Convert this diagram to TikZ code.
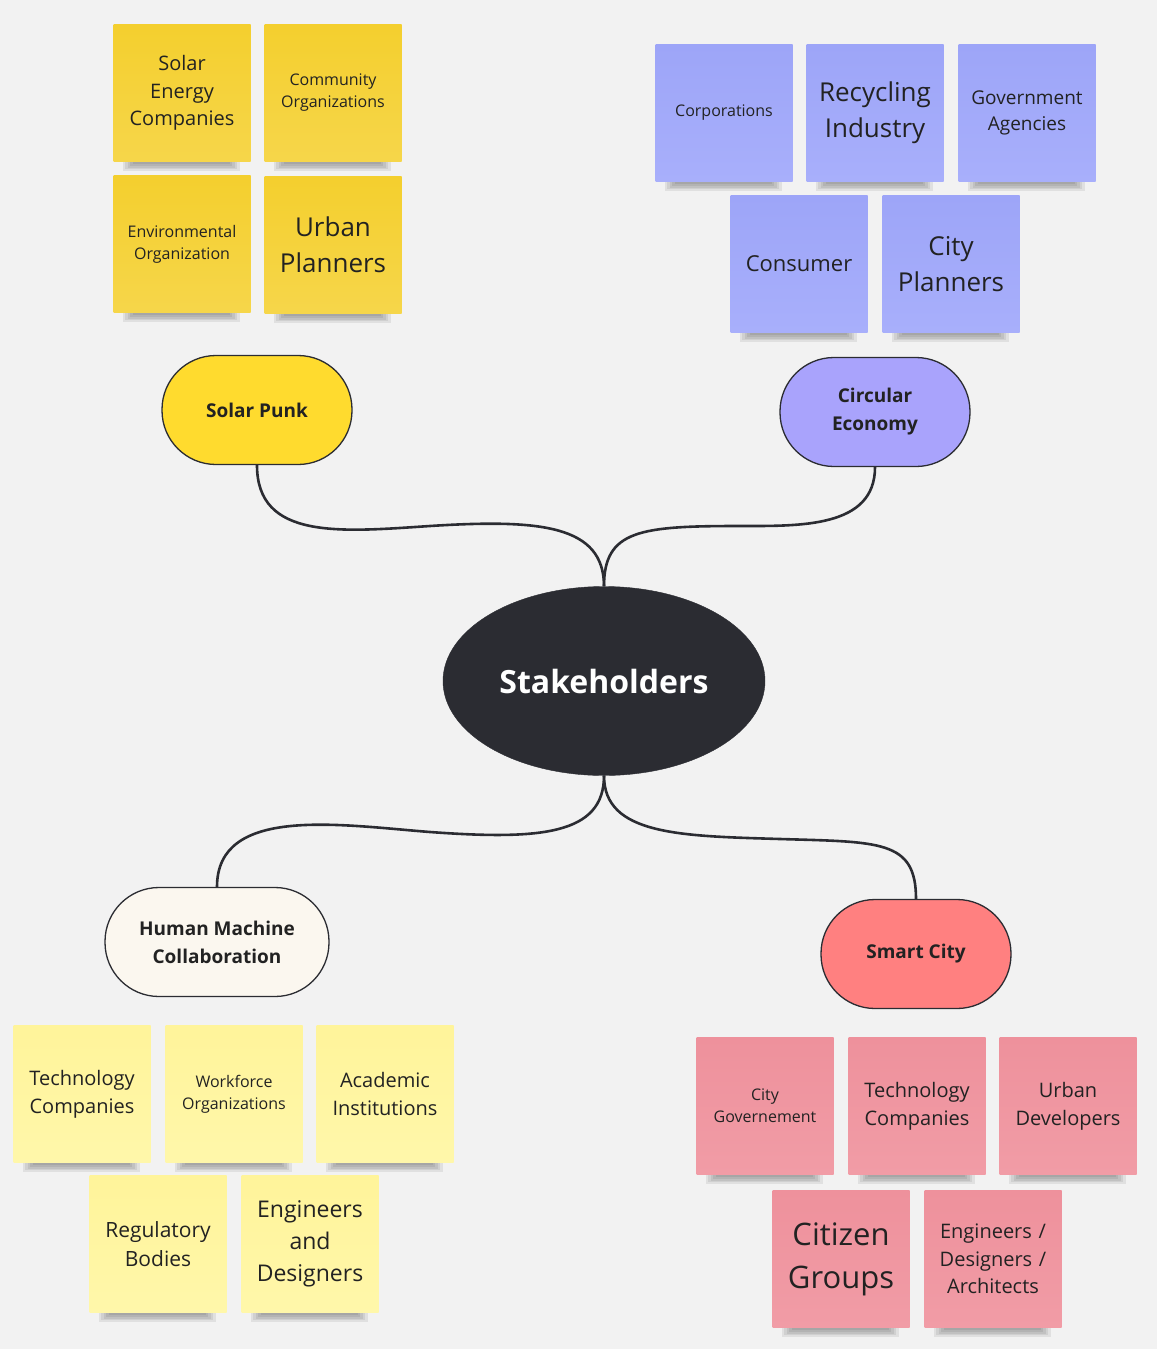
\documentclass[tikz,border=0pt]{standalone}
\usepackage{fontspec}
\setmainfont{Open Sans}
\usetikzlibrary{shapes.geometric}
\definecolor{bg}{HTML}{F2F2F2}
\definecolor{ink}{HTML}{2B2C32}
\definecolor{txt}{HTML}{222222}
\definecolor{ygold}{HTML}{F4CF2E}
\definecolor{ygoldb}{HTML}{F6D64A}
\definecolor{nblue}{HTML}{9DA5F8}
\definecolor{nblueb}{HTML}{A8AFFB}
\definecolor{lyel}{HTML}{FFF49A}
\definecolor{lyelb}{HTML}{FFF7AA}
\definecolor{npink}{HTML}{EE919C}
\definecolor{npinkb}{HTML}{F19CA6}
\definecolor{spfill}{HTML}{FFDB2E}
\definecolor{cefill}{HTML}{A9A3FC}
\definecolor{hmfill}{HTML}{FBF7EF}
\definecolor{scfill}{HTML}{FF8080}
\tikzset{
  note/.style={rectangle, minimum width=137pt, minimum height=137pt, inner sep=4pt,
    align=center, text=txt, text width=128pt},
  topic/.style={rectangle, rounded corners=54pt, draw=ink, line width=1.3pt,
    minimum height=109pt, inner sep=0pt, align=center, text=txt,
    font=\fontsize{19}{28}\selectfont\bfseries},
  link/.style={draw=ink, line width=2.6pt},
}
% shadow + sticky note
\newcommand{\sticky}[7]{%
  \foreach \k in {1,...,6}{
    \fill[black, opacity=0.07] (#2-62+2.5*\k, #3+55) rectangle (#2+60-2.5*\k, #3+80-1.8*\k);
  }
  \pgfmathsetmacro\mylead{#6*1.38}%
  \node[note, top color=#4, bottom color=#5, font=\fontsize{#6}{\mylead}\selectfont] (#1) at (#2,#3) {#7};
}
\begin{document}
\begin{tikzpicture}[x=1pt, y=-1pt]
\useasboundingbox (0,0) rectangle (1157,1349);
\fill[bg] (0,0) rectangle (1157,1349);

% Solar punk stickies
\sticky{sa}{182}{93}{ygold}{ygoldb}{20}{Solar\\Energy\\Companies}
\sticky{sb}{333}{93}{ygold}{ygoldb}{16}{Community\\Organizations}
\sticky{sc}{182}{244}{ygold}{ygoldb}{16}{Environmental\\Organization}
\sticky{sd}{333}{245}{ygold}{ygoldb}{26}{Urban\\Planners}

% Circular economy stickies
\sticky{ca}{724}{113}{nblue}{nblueb}{16}{Corporations}
\sticky{cb}{875}{113}{nblue}{nblueb}{26}{Recycling\\Industry}
\sticky{cc}{1027}{113}{nblue}{nblueb}{19}{Government\\Agencies}
\sticky{cd}{799}{264}{nblue}{nblueb}{22}{Consumer}
\sticky{ce2}{951}{264}{nblue}{nblueb}{26}{City\\Planners}

% Human machine stickies
\sticky{ha}{82}{1094}{lyel}{lyelb}{20}{Technology\\Companies}
\sticky{hb}{234}{1094}{lyel}{lyelb}{16}{Workforce\\Organizations}
\sticky{hc}{385}{1094}{lyel}{lyelb}{20}{Academic\\Institutions}
\sticky{hd}{158}{1244}{lyel}{lyelb}{21}{Regulatory\\Bodies}
\sticky{he}{310}{1244}{lyel}{lyelb}{23}{Engineers\\and\\Designers}

% Smart city stickies
\sticky{pa}{765}{1106}{npink}{npinkb}{16}{City\\Governement}
\sticky{pb}{917}{1106}{npink}{npinkb}{20}{Technology\\Companies}
\sticky{pc}{1068}{1106}{npink}{npinkb}{20}{Urban\\Developers}
\sticky{pd}{841}{1259}{npink}{npinkb}{31}{Citizen\\Groups}
\sticky{pe}{993}{1259}{npink}{npinkb}{20}{Engineers /\\Designers /\\Architects}

% topics
\node[topic, fill=spfill, minimum width=190pt] (sp) at (257,410) {Solar Punk};
\node[topic, fill=cefill, minimum width=190pt] (ce) at (875,412) {Circular\\Economy};
\node[topic, fill=hmfill, minimum width=224pt] (hm) at (217,942) {Human Machine\\Collaboration};
\node[topic, fill=scfill, minimum width=190pt] (sc) at (916,954) {Smart City};

% center
\node[ellipse, fill=ink, draw=ink, minimum width=322pt, minimum height=189pt, inner sep=0pt,
  text=white, font=\fontsize{32}{40}\selectfont\bfseries] (st) at (604,681) {Stakeholders};

% connectors
\path[link] (sp.south) .. controls (257,540) and (340,532) .. (430,526)
   .. controls (540,519) and (604,525) .. (st.north);
\path[link] (ce.south) .. controls (875,528) and (800,526) .. (740,526)
   .. controls (640,526) and (604,530) .. (st.north);
\path[link] (st.south) .. controls (604,835) and (540,840) .. (430,832)
   .. controls (340,825) and (217,805) .. (hm.north);
\path[link] (st.south) .. controls (604,835) and (680,836) .. (780,839)
   .. controls (880,842) and (916,840) .. (sc.north);
\end{tikzpicture}
\end{document}
